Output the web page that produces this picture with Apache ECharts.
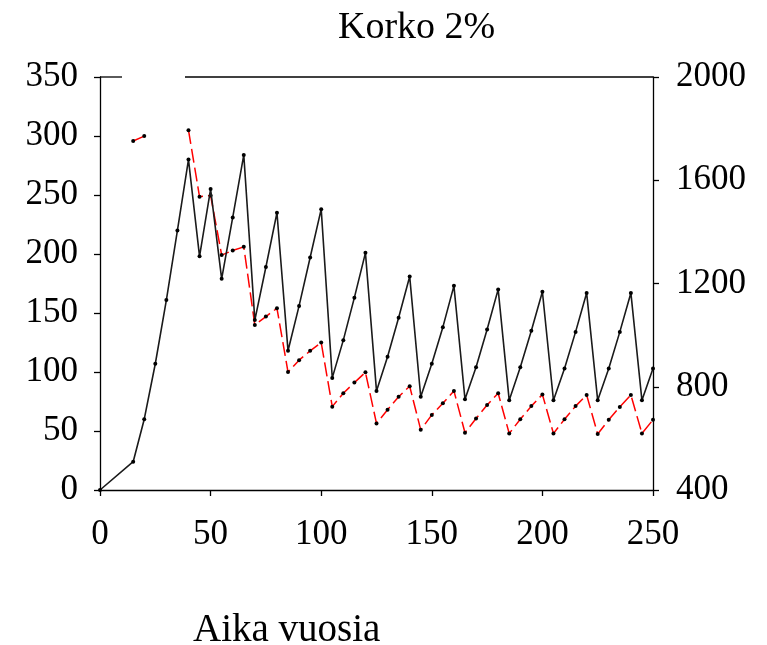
<!DOCTYPE html>
<html>
<head>
<meta charset="utf-8">
<script src="https://cdn.jsdelivr.net/npm/echarts@6/dist/echarts.min.js"></script>
<style>
html, body { margin: 0; padding: 0; background: #fff; }
#chart { width: 767px; height: 645px; }
</style>
</head>
<body>
<div id="chart"></div>
<script>
var years = [0, 15, 20, 25, 30, 35, 40, 45, 50, 55, 60, 65, 70, 75, 80, 85, 90, 95, 100,
	105, 110, 115, 120, 125, 130, 135, 140, 145, 150, 155, 160, 165, 170, 175, 180,
	185, 190, 195, 200, 205, 210, 215, 220, 225, 230, 235, 240, 245, 250];
// musta viiva, vasen akseli
var leftValues = [0, 24, 60, 107, 161, 220, 280, 198, 255, 179, 231, 284, 144, 189, 235,
	118, 156, 197, 238, 95, 127, 163, 201, 84, 113, 146, 181, 79, 107, 138, 173,
	77, 104, 136, 170, 76, 104, 135, 168, 76, 103, 134, 167, 76, 103, 134, 167, 76, 103];
// punainen katkoviiva, oikea akseli
var rightValues = [null, 1752, 1771, null, null, null, 1794, 1536, 1541, 1310, 1328, 1342,
	1039, 1072, 1104, 857, 903, 939, 971, 723, 775, 816, 856, 658, 711, 761, 802,
	633, 691, 736, 784, 622, 677, 729, 775, 619, 674, 725, 770, 619, 674, 725, 768,
	617, 672, 722, 768, 619, 672];
var xTicks = [0, 250, 50];
var leftTicks = [0, 350, 50];
var rightTicks = [400, 2000, 400];

var font = "Liberation Serif";
var axisCommon = {
	axisLine : { show : true, lineStyle : { color : "#000", width : 1.3 } },
	axisTick : { show : true, inside : false, length : 6, lineStyle : { color : "#000", width : 1.3 } },
	splitLine : { show : false },
	axisLabel : { color : "#000", fontFamily : font, fontSize : 35, formatter : function (v) { return String(v); } }
};

function pairs(vals) {
	var arr = [];
	for (var i = 0; i < years.length; i++) {
		arr.push([years[i], vals[i]]);
	}
	return arr;
}

var myChart = echarts.init(document.getElementById("chart"));
var option = {
	backgroundColor : "#fff",
	animation : false,
	title : [ {
		text : "Korko 2%",
		left : 333,
		top : 4,
		textStyle : { fontFamily : font, fontSize : 38, fontWeight : "normal", color : "#000" }
	}, {
		text : "Aika vuosia",
		left : 188,
		top : 606,
		textStyle : { fontFamily : font, fontSize : 39, fontWeight : "normal", color : "#000" }
	} ],
	grid : { left : 100, right : 114, top : 77, bottom : 155 },
	xAxis : echarts.util.merge({
		type : "value",
		min : xTicks[0],
		max : xTicks[1],
		interval : xTicks[2],
		axisLabel : { margin : 27 }
	}, axisCommon),
	yAxis : [ echarts.util.merge({
		type : "value",
		position : "left",
		min : leftTicks[0],
		max : leftTicks[1],
		interval : leftTicks[2],
		axisLabel : { margin : 22 }
	}, axisCommon), echarts.util.merge({
		type : "value",
		position : "right",
		min : rightTicks[0],
		max : rightTicks[1],
		interval : rightTicks[2],
		axisLabel : { margin : 23 }
	}, axisCommon) ],
	graphic : [ {
		type : "line",
		shape : { x1 : 100, y1 : 77, x2 : 122, y2 : 77 },
		style : { stroke : "#000", lineWidth : 1.3 }
	}, {
		type : "line",
		shape : { x1 : 185, y1 : 77, x2 : 653, y2 : 77 },
		style : { stroke : "#000", lineWidth : 1.3 }
	} ],
	series : [ {
		type : "line",
		yAxisIndex : 1,
		data : pairs(rightValues),
		symbol : "circle",
		symbolSize : 4,
		itemStyle : { color : "#000" },
		lineStyle : { color : "#ff0000", width : 1.5, type : [ 14, 5 ] },
		connectNulls : false,
		z : 2
	}, {
		type : "line",
		yAxisIndex : 0,
		data : pairs(leftValues),
		symbol : "circle",
		symbolSize : 4,
		itemStyle : { color : "#000" },
		lineStyle : { color : "#1a1a1a", width : 1.6 },
		z : 3
	} ]
};
myChart.setOption(option);
</script>
</body>
</html>
